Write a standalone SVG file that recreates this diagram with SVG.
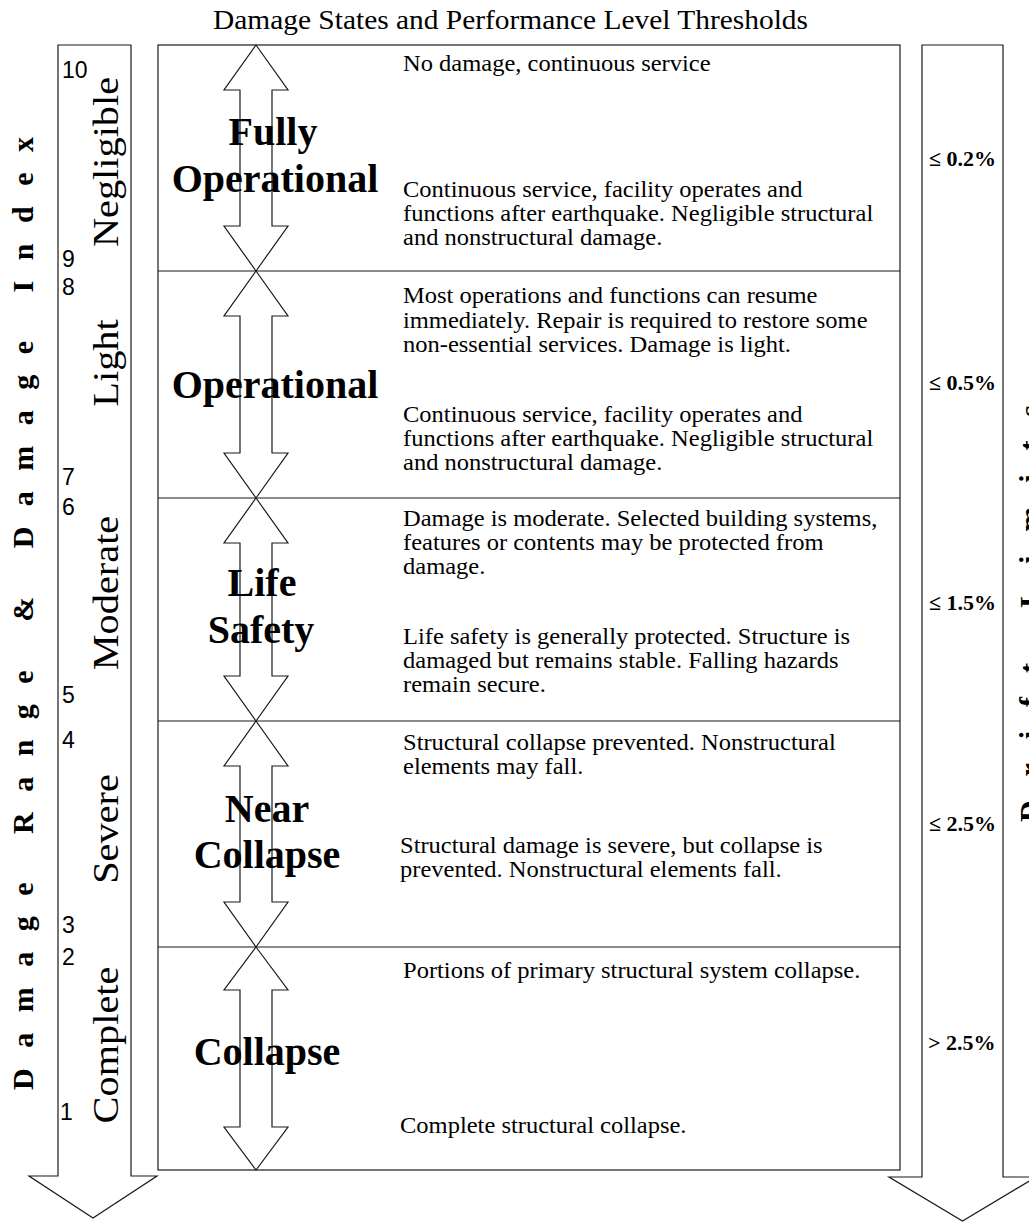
<svg xmlns="http://www.w3.org/2000/svg" width="1029" height="1222" viewBox="0 0 1029 1222">
<style>
.ln{fill:none;stroke:#1a1a1a;stroke-width:1.2}
.title{font-family:"Liberation Serif","Times New Roman",serif;font-size:28px;fill:#000}
.desc{font-family:"Liberation Serif","Times New Roman",serif;font-size:22.5px;fill:#000}
.lvl{font-family:"Liberation Serif","Times New Roman",serif;font-size:40px;font-weight:bold;text-anchor:middle;fill:#000}
.dmg{font-family:"Liberation Serif","Times New Roman",serif;font-size:36px;text-anchor:middle;fill:#000}
.num{font-family:"Liberation Sans",Arial,sans-serif;font-size:23px;fill:#000}
.drift{font-family:"Liberation Serif","Times New Roman",serif;font-size:22px;font-weight:bold;fill:#000}
.axis{font-family:"Liberation Serif","Times New Roman",serif;font-size:30px;font-weight:bold;fill:#000}
</style>

<g id="title">
  <text class="title" x="213" y="29" textLength="595" lengthAdjust="spacingAndGlyphs">Damage States and Performance Level Thresholds</text>
</g>

<g id="damage-axis">
  <path class="ln" d="M58,45 L131,45 L131,1176 L157,1176 L93,1218 L29,1176 L58,1176 Z"/>
  <text class="axis" transform="translate(33,613.5) rotate(-90)" text-anchor="middle" textLength="953" lengthAdjust="spacing">Damage Range &amp; Damage Index</text>
  <text class="num" x="62" y="78">10</text>
  <text class="num" x="62" y="267">9</text>
  <text class="num" x="62" y="295">8</text>
  <text class="num" x="62" y="485">7</text>
  <text class="num" x="62" y="515">6</text>
  <text class="num" x="62" y="703">5</text>
  <text class="num" x="62" y="748">4</text>
  <text class="num" x="62" y="933">3</text>
  <text class="num" x="62" y="965">2</text>
  <text class="num" x="60" y="1120">1</text>
  <text class="dmg" transform="translate(118,162) rotate(-90) scale(1.12,1)">Negligible</text>
  <text class="dmg" transform="translate(118,363) rotate(-90) scale(1.12,1)">Light</text>
  <text class="dmg" transform="translate(118,593) rotate(-90) scale(1.12,1)">Moderate</text>
  <text class="dmg" transform="translate(118,829) rotate(-90) scale(1.12,1)">Severe</text>
  <text class="dmg" transform="translate(118,1045) rotate(-90) scale(1.12,1)">Complete</text>
</g>

<g id="drift-axis">
  <path class="ln" d="M922,45 L1003,45 L1003,1177 L1036,1177 L962.5,1221 L889,1177 L922,1177 Z"/>
  <text class="axis" transform="translate(1040,613.5) rotate(-90)" text-anchor="middle" textLength="417" lengthAdjust="spacing">Drift Limits</text>
  <text class="drift" x="929" y="166">≤ 0.2%</text>
  <text class="drift" x="929" y="390">≤ 0.5%</text>
  <text class="drift" x="929" y="610">≤ 1.5%</text>
  <text class="drift" x="929" y="831">≤ 2.5%</text>
  <text class="drift" x="928" y="1050">&gt; 2.5%</text>
</g>

<g id="table">
  <rect class="ln" x="158" y="45" width="742" height="1125"/>
  <line class="ln" x1="158" y1="271" x2="900" y2="271"/>
  <line class="ln" x1="158" y1="498" x2="900" y2="498"/>
  <line class="ln" x1="158" y1="721" x2="900" y2="721"/>
  <line class="ln" x1="158" y1="947" x2="900" y2="947"/>
</g>

<g id="connectors">
  <path class="ln" d="M256,45 L288,90 L272,90 L272,226 L288,226 L256,271 L224,226 L240,226 L240,90 L224,90 Z"/>
  <path class="ln" d="M256,271 L288,316 L272,316 L272,453 L288,453 L256,498 L224,453 L240,453 L240,316 L224,316 Z"/>
  <path class="ln" d="M256,498 L288,543 L272,543 L272,676 L288,676 L256,721 L224,676 L240,676 L240,543 L224,543 Z"/>
  <path class="ln" d="M256,721 L288,766 L272,766 L272,902 L288,902 L256,947 L224,902 L240,902 L240,766 L224,766 Z"/>
  <path class="ln" d="M256,947 L288,990 L272,990 L272,1127 L288,1127 L256,1170 L224,1127 L240,1127 L240,990 L224,990 Z"/>
</g>

<g id="fully-operational">
  <text class="lvl" x="273" y="145">Fully</text>
  <text class="lvl" x="275" y="192">Operational</text>
  <text class="desc" transform="translate(403,0) scale(1.09,1)">
    <tspan x="0" y="71">No damage, continuous service</tspan>
    <tspan x="0" y="197">Continuous service, facility operates and</tspan>
    <tspan x="0" y="221">functions after earthquake. Negligible structural</tspan>
    <tspan x="0" y="245">and nonstructural damage.</tspan>
  </text>
</g>

<g id="operational">
  <text class="lvl" x="275" y="398">Operational</text>
  <text class="desc" transform="translate(403,0) scale(1.09,1)">
    <tspan x="0" y="303">Most operations and functions can resume</tspan>
    <tspan x="0" y="328">immediately. Repair is required to restore some</tspan>
    <tspan x="0" y="352">non-essential services. Damage is light.</tspan>
    <tspan x="0" y="422">Continuous service, facility operates and</tspan>
    <tspan x="0" y="446">functions after earthquake. Negligible structural</tspan>
    <tspan x="0" y="470">and nonstructural damage.</tspan>
  </text>
</g>

<g id="life-safety">
  <text class="lvl" x="262" y="596">Life</text>
  <text class="lvl" x="261" y="643">Safety</text>
  <text class="desc" transform="translate(403,0) scale(1.09,1)">
    <tspan x="0" y="526">Damage is moderate. Selected building systems,</tspan>
    <tspan x="0" y="550">features or contents may be protected from</tspan>
    <tspan x="0" y="574">damage.</tspan>
    <tspan x="0" y="644">Life safety is generally protected. Structure is</tspan>
    <tspan x="0" y="668">damaged but remains stable. Falling hazards</tspan>
    <tspan x="0" y="692">remain secure.</tspan>
  </text>
</g>

<g id="near-collapse">
  <text class="lvl" x="267" y="822">Near</text>
  <text class="lvl" x="267" y="868">Collapse</text>
  <text class="desc" transform="translate(403,0) scale(1.09,1)">
    <tspan x="0" y="750">Structural collapse prevented. Nonstructural</tspan>
    <tspan x="0" y="774">elements may fall.</tspan>
  </text>
  <text class="desc" transform="translate(400,0) scale(1.09,1)">
    <tspan x="0" y="853">Structural damage is severe, but collapse is</tspan>
    <tspan x="0" y="877">prevented. Nonstructural elements fall.</tspan>
  </text>
</g>

<g id="collapse">
  <text class="lvl" x="267" y="1065">Collapse</text>
  <text class="desc" transform="translate(403,0) scale(1.09,1)">
    <tspan x="0" y="978">Portions of primary structural system collapse.</tspan>
  </text>
  <text class="desc" transform="translate(400,0) scale(1.09,1)">
    <tspan x="0" y="1133">Complete structural collapse.</tspan>
  </text>
</g>
</svg>
